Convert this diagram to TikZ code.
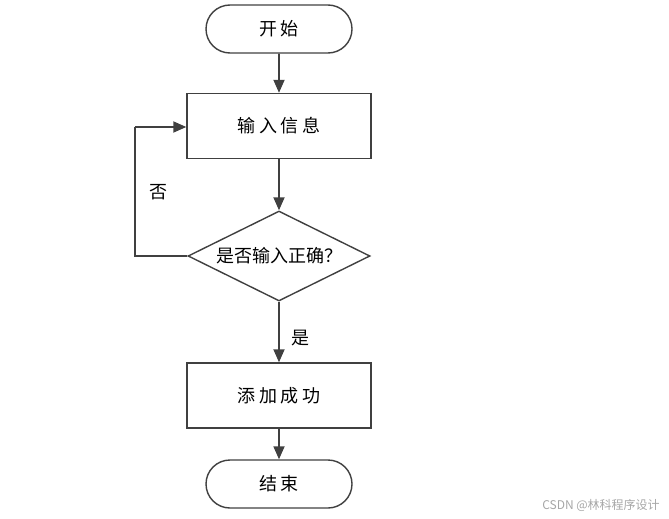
\documentclass[tikz,border=0pt]{standalone}
\usepackage{fontspec}
\newfontfamily\cjk{Noto Sans CJK SC}
\newfontfamily\cjksp[LetterSpace=20]{Noto Sans CJK SC}
\usetikzlibrary{shapes.geometric,shapes.misc,arrows.meta}
\definecolor{ln}{HTML}{404040}
\tikzset{
  base/.style={draw=ln, line width=1.4pt, font=\cjksp\fontsize{18}{18}\selectfont, inner sep=0pt},
  term/.style={base, rounded rectangle, minimum width=146pt, minimum height=48pt},
  procbox/.style={base, rectangle, minimum width=184pt, minimum height=65pt},
  decide/.style={base, diamond, font=\cjk\fontsize{18}{18}\selectfont, minimum width=182pt, minimum height=90pt, aspect=2},
  conn/.style={draw=ln, line width=1.8pt, -{Triangle[length=13pt,width=11pt]}},
  lbl/.style={font=\cjk\fontsize{18}{18}\selectfont, inner sep=0pt},
}
\begin{document}
\begin{tikzpicture}[x=1pt,y=-1pt]
\useasboundingbox (0,0) rectangle (669,519);
\node[term] (start) at (279,29) {开始};
\node[procbox] (input) at (279,126) {输入信息};
\node[decide] (check) at (279,256) {是否输入正确？};
\node[procbox] (ok) at (279,395.5) {添加成功};
\node[term] (end) at (279,484) {结束};
\coordinate (c1) at (135,256);
\coordinate (c2) at (135,127);
\draw[conn] (start) -- (input);
\draw[conn] (input) -- (check);
\draw[conn] (check) -- (ok);
\draw[conn] (ok) -- (end);
\draw[draw=ln, line width=1.8pt] (check.west) -- (c1) -- (c2);
\draw[conn] (c2) -- (input.west |- c2);
\node[lbl] (no) at (158,192) {否};
\node[lbl] (yes) at (300,338) {是};
\node[font=\cjk\fontsize{12}{12}\selectfont, text=gray!70, inner sep=0pt] (wm) at (601,505) {CSDN @林科程序设计};
\end{tikzpicture}
\end{document}
